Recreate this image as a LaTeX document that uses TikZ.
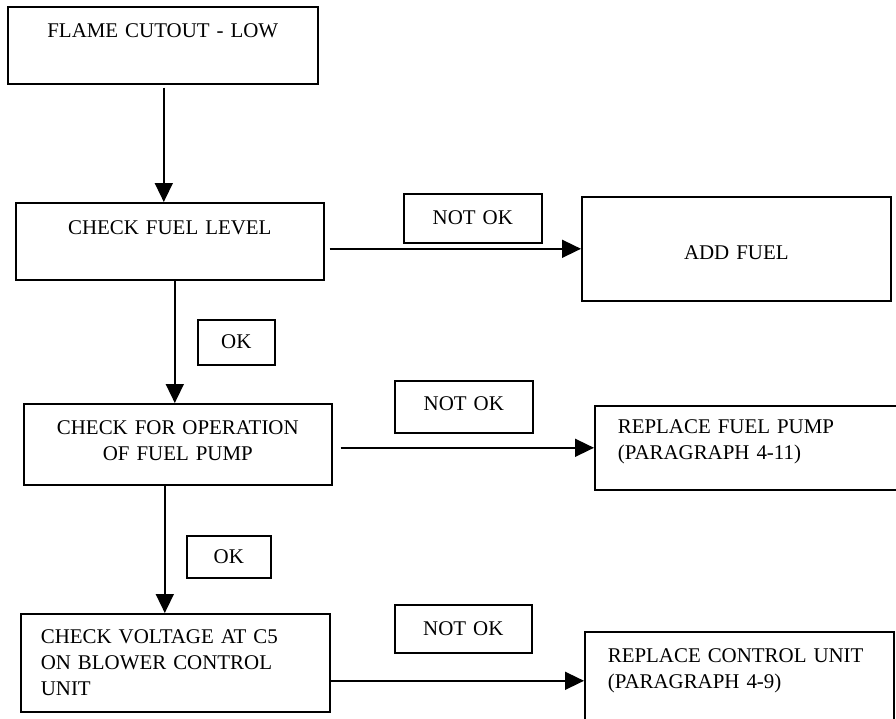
\documentclass[tikz,border=0pt]{standalone}
\usepackage{fontspec}
\setmainfont{Liberation Serif}
\usetikzlibrary{arrows.meta}

\begin{document}
\begin{tikzpicture}[x=1bp, y=-1bp, line width=1.6bp,
    box/.style={draw, inner sep=0pt, anchor=north west, align=center,
                font=\fontsize{21}{26}\selectfont},
    flow/.style={-{Triangle[length=19bp, width=18bp]}}]
    \useasboundingbox (0,0) rectangle (896,719);
    \clip (0,0) rectangle (896,719);

    % draw check boxes
    \node[box, text width=310bp, text height=31bp, text depth=46bp] (cutout) at (7,6) {FLAME CUTOUT - LOW};
    \node[box, text width=308bp, text height=32bp, text depth=45bp] (level) at (15,202) {CHECK FUEL LEVEL};
    \node[box, text width=308bp, text height=31bp, text depth=50bp] (pump) at (23,403) {CHECK FOR OPERATION\\OF FUEL PUMP};
    \node[box, align=left, inner xsep=20bp, text width=269bp, text height=30bp, text depth=68bp] (voltage) at (20,613)
        {CHECK VOLTAGE AT C5\\ON BLOWER CONTROL\\UNIT};

    % draw action boxes
    \node[box, text width=309bp, text height=63bp, text depth=41bp] (addfuel) at (581,196) {ADD FUEL};
    \node[box, align=left, inner xsep=23bp, text width=264bp, text height=28bp, text depth=56bp] (pumprep) at (594,405)
        {REPLACE FUEL PUMP\\(PARAGRAPH 4-11)};
    \node[box, align=left, inner xsep=23bp, text width=263bp, text height=31bp, text depth=67bp] (unitrep) at (584,631)
        {REPLACE CONTROL UNIT\\(PARAGRAPH 4-9)};

    % draw OK / NOT OK tags
    \node[box, text width=138bp, text height=31bp, text depth=18bp] (notok1) at (403,193) {NOT OK};
    \node[box, text width=77bp, text height=29bp, text depth=16bp] (ok1) at (197,319) {OK};
    \node[box, text width=138bp, text height=30bp, text depth=22bp] (notok2) at (394,380) {NOT OK};
    \node[box, text width=84bp, text height=28bp, text depth=14bp] (ok2) at (186,535) {OK};
    \node[box, text width=137bp, text height=31bp, text depth=17bp] (notok3) at (394,604) {NOT OK};

    % draw arrows
    \draw[flow, shorten <=3bp] ([xshift=1bp]cutout.south) -- ([xshift=1bp]cutout.south |- level.north);
    \draw[flow, shorten <=5bp] (level.east |- addfuel.west) -- (addfuel.west);
    \draw[flow] ([xshift=5bp]level.south) -- ([xshift=5bp]level.south |- pump.north);
    \draw[flow, shorten <=8bp] (pump.east |- pumprep.west) -- (pumprep.west);
    \draw[flow] ([xshift=-13bp]pump.south) -- ([xshift=-13bp]pump.south |- voltage.north);
    \draw[flow] (voltage.east |- unitrep.west) -- (unitrep.west);

\end{tikzpicture}
\end{document}
